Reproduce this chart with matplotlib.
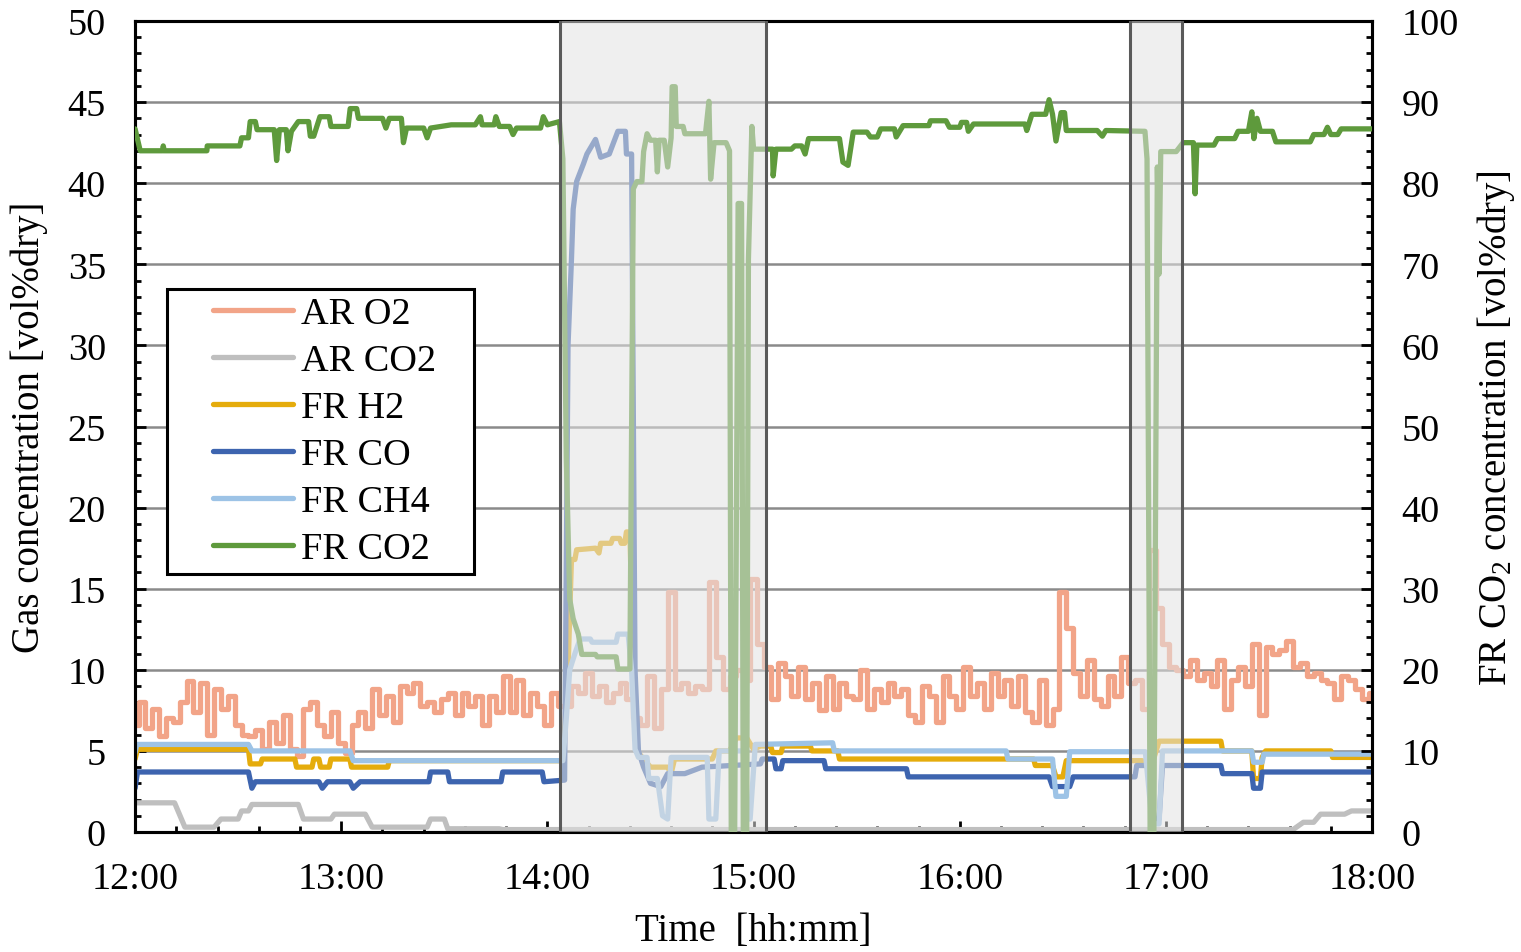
import numpy as np
import matplotlib
matplotlib.use("Agg")
import matplotlib.pyplot as plt
from matplotlib.ticker import MultipleLocator
from matplotlib.legend_handler import HandlerLine2D

plt.rcParams["font.family"] = ["Liberation Serif", "DejaVu Serif"]
plt.rcParams["mathtext.fontset"] = "custom"
plt.rcParams["mathtext.rm"] = "Liberation Serif"
plt.rcParams["mathtext.it"] = "Liberation Serif:italic"

# --- data: time in minutes after 12:00 ---
time_ticks = [0, 60, 120, 180, 240, 300, 360]
time_labels = ["12:00", "13:00", "14:00", "15:00", "16:00", "17:00", "18:00"]

# reactor outage windows (shaded)
shaded = [(123.7, 183.6), (289.5, 304.7)]

# AR O2, sampled every 2 min
o2_t = np.arange(0, 361, 2)
o2_v = [6.6, 8.0, 6.4, 7.6, 5.9, 7.0, 6.8, 8.0, 9.3, 7.4, 9.2, 6.0, 8.8, 7.6, 8.4, 6.6,
        6.0, 5.9, 6.3, 5.1, 6.8, 5.5, 7.2, 5.1, 4.7, 7.6, 8.0, 6.6, 5.9, 7.4, 5.5, 4.9,
        6.6, 7.4, 6.4, 8.8, 7.2, 8.4, 6.8, 9.0, 8.6, 9.2, 7.8, 8.0, 7.4, 8.2, 8.6, 7.2,
        8.6, 7.8, 8.4, 6.6, 8.4, 7.4, 9.6, 7.4, 9.4, 7.2, 8.6, 7.8, 6.6, 8.6,
        7.8, 7.8, 9.0, 8.6, 9.8, 8.4, 9.0, 8.0, 8.6, 9.2, 8.2, 7.0, 6.6, 9.6, 6.4, 8.8,
        14.8, 8.8, 9.2, 8.6, 9.0, 8.8, 15.4, 10.8, 8.8, 9.6, 10.0, 9.4, 15.6, 11.6,
        10.2, 8.2, 10.4, 9.6, 8.4, 10.2, 8.2, 9.2, 7.5, 9.6, 7.6, 9.2, 8.4, 8.2, 10.0, 7.6,
        8.8, 8.0, 9.2, 8.4, 8.8, 7.2, 6.8, 9.0, 8.4, 6.8, 9.6, 8.4, 7.6, 10.2, 8.4, 9.2,
        7.6, 9.8, 8.4, 9.4, 7.8, 9.6, 7.4, 6.8, 9.4, 6.6, 7.6, 14.8, 12.6, 9.8, 8.4, 10.6,
        8.2, 7.8, 9.6, 8.4, 10.8,
        9.2, 9.4, 7.6, 17.4, 13.8, 11.6, 10.2, 10.0, 9.6, 10.6, 9.4, 9.8, 9.0, 10.6, 7.6,
        9.4, 10.2, 9.0, 11.6, 7.2, 11.4, 11.0, 11.2, 11.8, 10.2, 10.4, 9.6, 9.8, 9.4, 9.2,
        8.2, 9.6, 9.4, 8.8, 8.2, 8.6]

ar_co2 = [(0, 1.8), (11.5, 1.8), (14.5, 0.3), (23, 0.3), (25, 0.8), (30, 0.8), (31, 1.3),
          (33, 1.3), (34, 1.7), (47.5, 1.7), (49, 0.8), (57, 0.8), (58, 1.1), (67, 1.1),
          (69, 0.3), (85, 0.3), (86, 0.8), (90, 0.8), (91, 0.2), (106, 0.2), (107, 0.15),
          (337, 0.15), (340, 0.6), (343, 0.6), (345, 1.1), (352, 1.1), (354, 1.3), (360, 1.3)]

fr_h2 = [(0, 4.5), (0.7, 5.1), (33, 5.1), (33.5, 4.2), (36.5, 4.2), (37, 4.5), (46.5, 4.5),
         (47, 4.0), (51.5, 4.0), (52, 4.5), (53.5, 4.5), (54, 4.0), (56.5, 4.0), (57, 4.5),
         (62.5, 4.5), (63, 4.0), (73.5, 4.0), (74, 4.4), (124.5, 4.4), (126, 10), (127, 16.8),
         (128, 16.8), (128.5, 17.4), (134, 17.5), (135, 17.2), (135.5, 17.8), (138.5, 17.8),
         (139, 18.1), (141, 18.1), (141.5, 17.8), (142.5, 17.8), (143, 18.5), (144, 18.5),
         (145, 10), (146, 5.0), (148, 4.5), (150, 4.0), (155, 4.0), (156, 3.6), (157, 4.5),
         (168, 4.5), (169, 5.0), (173, 5.0), (175, 5.8), (178, 5.8), (180, 5.1), (182, 5.3),
         (185, 5.3), (185.5, 4.9), (188, 4.9), (188.5, 5.3), (196.5, 5.3), (197, 5.0),
         (204.5, 5.0), (205, 4.5), (261.5, 4.5), (262, 4.1), (267, 4.1), (268, 3.4), (270, 3.4),
         (271, 4.4), (293, 4.4), (296, 4.2), (298, 5.6), (316, 5.6), (316.5, 5.0), (325, 5.0),
         (325.5, 3.3), (327.5, 3.3), (328, 4.6), (329, 5.0), (348, 5.0), (348.5, 4.6), (360, 4.6)]

fr_co = [(0, 2.7), (0.7, 3.7), (33, 3.7), (34, 2.7), (35, 3.1), (53.5, 3.1), (54.5, 2.7),
         (56, 3.1), (62.5, 3.1), (63.5, 2.7), (65.5, 3.1), (85.5, 3.1), (86, 3.7), (91, 3.7),
         (91.5, 3.1), (106.5, 3.1), (107, 3.7), (118.5, 3.7), (119, 3.1), (125, 3.2), (126, 30),
         (127, 35.3), (127.5, 38.4), (128.5, 40.1), (130.5, 41.2), (131.5, 41.8), (134, 42.7),
         (135.5, 41.6), (138, 41.8), (140.5, 43.2), (142.7, 43.2), (143, 41.8), (144.5, 41.8),
         (145.5, 10), (146.5, 5.0), (148, 4.0), (150, 3.0), (153, 2.8), (155, 3.6), (160, 3.6),
         (165, 4.0), (182, 4.2), (182.5, 4.5), (186, 4.5), (186.5, 3.9), (188, 3.9),
         (188.5, 4.4), (200.5, 4.4), (201, 3.9), (224.5, 3.9), (225, 3.4), (266, 3.4),
         (267, 2.8), (272, 2.8), (273, 3.4), (291, 3.4), (291.5, 4.1), (295.5, 4.1),
         (296.5, 0.8), (298, 0.8), (299, 4.1), (316, 4.1), (316.5, 3.6), (325, 3.6),
         (325.5, 2.7), (327.5, 2.7), (328, 3.7), (360, 3.7)]

fr_ch4 = [(0, 4.9), (0.5, 5.4), (33, 5.4), (34, 5.0), (62.5, 5.0), (63.5, 4.4), (124.5, 4.4),
          (125.5, 7.0), (126.5, 10.0), (128, 11.0), (129.5, 11.9), (132.5, 11.9), (133, 11.7),
          (140, 11.7), (140.5, 12.2), (143.5, 12.2), (144.5, 10), (145.5, 5.1), (146.5, 4.6),
          (149, 4.6), (149.5, 3.3), (152, 3.3), (153.5, 1.0), (155, 0.8), (156, 4.6),
          (166.5, 4.6), (167, 0.8), (169, 0.8), (170, 5.0), (177, 5.0), (178, 0.8), (179, 0.8),
          (180.5, 5.4), (203, 5.5), (203.5, 5.0), (253.5, 5.0), (254, 4.5), (267, 4.5),
          (268, 2.2), (271, 2.2), (272, 4.95), (294, 4.95), (296, 0.5), (298, 0.5), (299, 5.0),
          (325, 5.0), (325.5, 4.3), (328, 4.3), (328.5, 4.8), (360, 4.8)]

# FR CO2 on the right axis (0-100)
fr_co2 = [(0, 86.7), (1.5, 84.0), (8, 84.0), (8.2, 84.6), (8.5, 84.0), (20.9, 84.0), (21, 84.6),
          (30.5, 84.6), (31, 85.6), (33, 85.6), (33.5, 87.6), (35, 87.6), (35.5, 86.6),
          (40.5, 86.6), (41.2, 82.8), (42, 86.6), (44, 86.6), (44.5, 84.0), (45.5, 86.4),
          (47.5, 87.6), (50.5, 87.6), (51, 85.8), (52, 85.8), (53.8, 88.2), (56.5, 88.2),
          (57, 87.0), (62, 87.0), (62.6, 89.2), (64.5, 89.2), (65, 88.0), (72, 88.0), (73, 86.8),
          (74, 88.0), (77.5, 88.0), (78.1, 85.0), (79, 86.8), (84, 86.8), (85, 85.6), (86, 86.8),
          (92, 87.2), (99, 87.2), (100.5, 88.2), (101, 87.2), (104.5, 87.2), (105, 88.2),
          (106, 87.0), (109, 87.0), (110, 86.0), (111, 86.8), (118, 86.8), (118.8, 88.2),
          (120, 87.2), (123.5, 87.6), (124.5, 83.0), (125.5, 46.0), (126.5, 28.7), (127.5, 26.3),
          (129, 24.4), (130, 21.9), (134, 21.9), (134.5, 21.6), (140, 21.6), (140.5, 20.1),
          (144, 20.1), (145, 79.3), (146, 80.2), (147.5, 80.2), (148, 83.9), (149, 86.1),
          (150, 85.3), (151.5, 85.3), (152, 81.4), (152.5, 85.3), (154, 85.3), (155, 82.0),
          (156, 85.6), (156.3, 91.9), (157.2, 91.9), (157.5, 87.0), (159.5, 87.0), (160, 86.1),
          (166, 86.1), (167, 90.1), (167.5, 80.5), (168.5, 85.0), (172, 85.0), (173, 84.0),
          (173.5, 0), (174.5, 0), (175.5, 77.5), (176.5, 77.5), (177, 0), (178, 0), (178.5, 70.6),
          (179.5, 87.0), (180, 84.2), (185.5, 84.2), (185.7, 80.9), (186.5, 84.2), (191, 84.2),
          (192, 84.6), (194, 84.6), (195, 83.6), (196, 85.5), (205, 85.5), (206, 82.6),
          (207.5, 82.2), (209, 86.3), (213, 86.3), (214, 85.7), (216, 85.7), (217, 86.7),
          (221, 86.7), (221.5, 85.7), (223.5, 87.1), (231, 87.1), (231.5, 87.7), (236, 87.7),
          (237, 86.9), (240, 86.9), (240.5, 87.5), (242, 87.5), (242.5, 86.4), (244, 87.3),
          (259, 87.3), (259.5, 86.5), (261, 88.5), (265, 88.5), (266, 90.3), (267, 88.5),
          (268, 85.2), (269.5, 88.7), (270.5, 88.7), (271, 86.5), (280, 86.5), (281.5, 85.8),
          (282.5, 86.5), (293.9, 86.4), (294.5, 83.0), (295.4, 0), (296.5, 0), (297.5, 82.0),
          (298, 68.8), (298.5, 83.9), (303, 83.9), (305, 85.0), (308, 85.0), (308.5, 78.7),
          (309, 84.7), (314, 84.7), (315, 85.5), (320, 85.5), (321, 86.4), (324, 86.4),
          (325, 88.8), (325.6, 85.5), (326.5, 88.0), (327.5, 86.4), (331, 86.4), (332, 85.1),
          (342, 85.1), (343, 86.0), (346, 86.0), (347, 86.9), (348, 86.0), (350, 86.0),
          (351, 86.7), (360, 86.7)]

# --- figure ---
fig = plt.figure(figsize=(15.21, 9.53), dpi=100, facecolor="white")
ax = fig.add_axes([0.0888, 0.1259, 0.8133, 0.8510])
ax2 = ax.twinx()

LW = 3.8
series = [
    ("AR O2", o2_t, o2_v, "#F2A488", "steps-mid"),
    ("AR CO2", *zip(*ar_co2), "#BFBFBF", "default"),
    ("FR H2", *zip(*fr_h2), "#E5AC0C", "default"),
    ("FR CO", *zip(*fr_co), "#3D64AF", "default"),
    ("FR CH4", *zip(*fr_ch4), "#9DC3E6", "default"),
]
handles = []
for name, t, v, c, ds in series:
    h, = ax.plot(t, v, color=c, lw=LW, drawstyle=ds, label=name,
                 solid_joinstyle="round", solid_capstyle="round")
    handles.append(h)
t2, v2 = zip(*fr_co2)
h, = ax2.plot(t2, v2, color="#5E9A3C", lw=LW, label="FR CO2",
              solid_joinstyle="round", solid_capstyle="round", zorder=3)
handles.append(h)

# shaded windows fade whatever is underneath
for x0, x1 in shaded:
    ax2.axvspan(x0, x1, color="#E2E2E2", alpha=0.55, lw=0, zorder=5)
    for xe in (x0, x1):
        ax2.axvline(xe, color="#5A5A5A", lw=2.2, zorder=6)

ax.set_xlim(0, 360)
ax.set_ylim(0, 50)
ax2.set_ylim(0, 100)

ax.set_xticks(time_ticks)
ax.set_xticklabels(time_labels)
ax.xaxis.set_minor_locator(MultipleLocator(12))
ax.yaxis.set_major_locator(MultipleLocator(5))
ax.yaxis.set_minor_locator(MultipleLocator(1))
ax2.yaxis.set_major_locator(MultipleLocator(10))
ax2.yaxis.set_minor_locator(MultipleLocator(2))

ax.grid(axis="y", color="#8A8A8A", lw=1.8)
ax.set_axisbelow(True)

FS = 27.5
LFS = 28
for a in (ax, ax2):
    a.tick_params(which="major", direction="in", length=8, width=2, labelsize=FS, pad=21)
    a.tick_params(which="minor", direction="in", length=4.5, width=2)
    for sp in a.spines.values():
        sp.set_linewidth(2.2)
        sp.set_color("black")
ax.tick_params(axis="x", top=False, which="both")

ax.set_xlabel("Time  [hh:mm]", fontsize=LFS, labelpad=12)
ax.set_ylabel("Gas concentration [vol%dry]", fontsize=LFS, labelpad=14)
ax2.set_ylabel("FR CO$_2$ concentration [vol%dry]", fontsize=LFS, labelpad=12)

leg = ax2.legend(handles=handles, loc="upper left",
                 bbox_to_anchor=(0.0259, 0.6695 - 0.3477, 0.248, 0.3477),
                 mode="expand", borderaxespad=0, borderpad=0.2, labelspacing=0.32,
                 handlelength=3.1, handletextpad=0.2, fontsize=FS, fancybox=False,
                 framealpha=1, edgecolor="black",
                 handler_map={matplotlib.lines.Line2D: HandlerLine2D(xpad=1.0)})
leg.get_frame().set_linewidth(2.2)
leg.set_zorder(10)

fig.savefig("out.png", dpi=100, facecolor="white")
